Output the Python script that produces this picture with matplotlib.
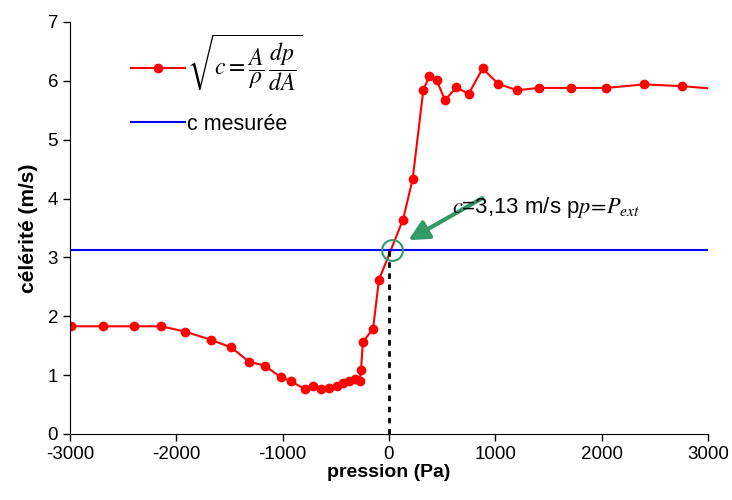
import matplotlib.pyplot as plt

plt.rcParams['font.family'] = ['Liberation Sans', 'DejaVu Sans']
plt.rcParams['mathtext.fontset'] = 'stix'
plt.rcParams['axes.unicode_minus'] = False

# pression (Pa) et célérité calculée (m/s)
pression = [-2990, -2687, -2401, -2142, -1916, -1674, -1483, -1317, -1166, -1016,
            -925, -790, -715, -640, -567, -492, -433, -373, -320, -276,
            -263, -245, -150, -94, 132, 223, 323, 379, 449, 527,
            633, 750, 881, 1028, 1204, 1408, 1709, 2044, 2399, 2759, 3100]
celerite = [1.83, 1.83, 1.83, 1.83, 1.74, 1.60, 1.47, 1.23, 1.16, 0.96,
            0.90, 0.76, 0.82, 0.76, 0.79, 0.82, 0.87, 0.90, 0.93, 0.90,
            1.09, 1.57, 1.78, 2.62, 3.64, 4.33, 5.84, 6.08, 6.01, 5.67,
            5.89, 5.78, 6.21, 5.95, 5.84, 5.88, 5.88, 5.88, 5.94, 5.91, 5.86]
c_mesuree = 3.13
p_croisement = 25

fig = plt.figure(figsize=(7.32, 5.0), dpi=100)
ax = fig.add_axes([0.0956, 0.132, 0.8715, 0.824])

ax.plot(pression, celerite, color='red', lw=1.5, marker='o', ms=6,
        label=r'$\sqrt{c=\dfrac{A}{\rho}\,\dfrac{dp}{dA}}$')
ax.axhline(c_mesuree, color='#0000ff', lw=1.5, label='c mesurée')
ax.plot([0, 0], [0, c_mesuree], color='black', lw=2, ls=(0, (2, 2)))
ax.plot([p_croisement], [c_mesuree], 'o', ms=15, mfc='none', mec='#339966', mew=1.5)

ax.annotate('', xy=(160, 3.27), xytext=(900, 4.03),
            arrowprops=dict(arrowstyle='-|>,head_length=1.2,head_width=0.6',
                            color='#339966', lw=3))
ax.text(590, 3.76, r'$c$=3,13 m/s p$p\!=\!P_{ext}$', fontsize=16,
        va='baseline', ha='left')

ax.set_xlim(-3000, 3000)
ax.set_ylim(0, 7)
ax.set_xticks(range(-3000, 3001, 1000))
ax.set_yticks(range(0, 8))
ax.tick_params(labelsize=13.5, direction='out', length=5, width=1)
ax.spines['top'].set_visible(False)
ax.spines['right'].set_visible(False)
ax.set_xlabel('pression (Pa)', fontsize=14, fontweight='bold', labelpad=1)
ax.set_ylabel('célérité (m/s)', fontsize=15, fontweight='bold', labelpad=7)

leg = ax.legend(loc='upper left', bbox_to_anchor=(0.065, 1.02), frameon=False,
                fontsize=15.5, handlelength=2.5, handletextpad=0.1, labelspacing=0.9)
leg.get_texts()[0].set_fontsize(17)

fig.savefig('out.png', dpi=100)
